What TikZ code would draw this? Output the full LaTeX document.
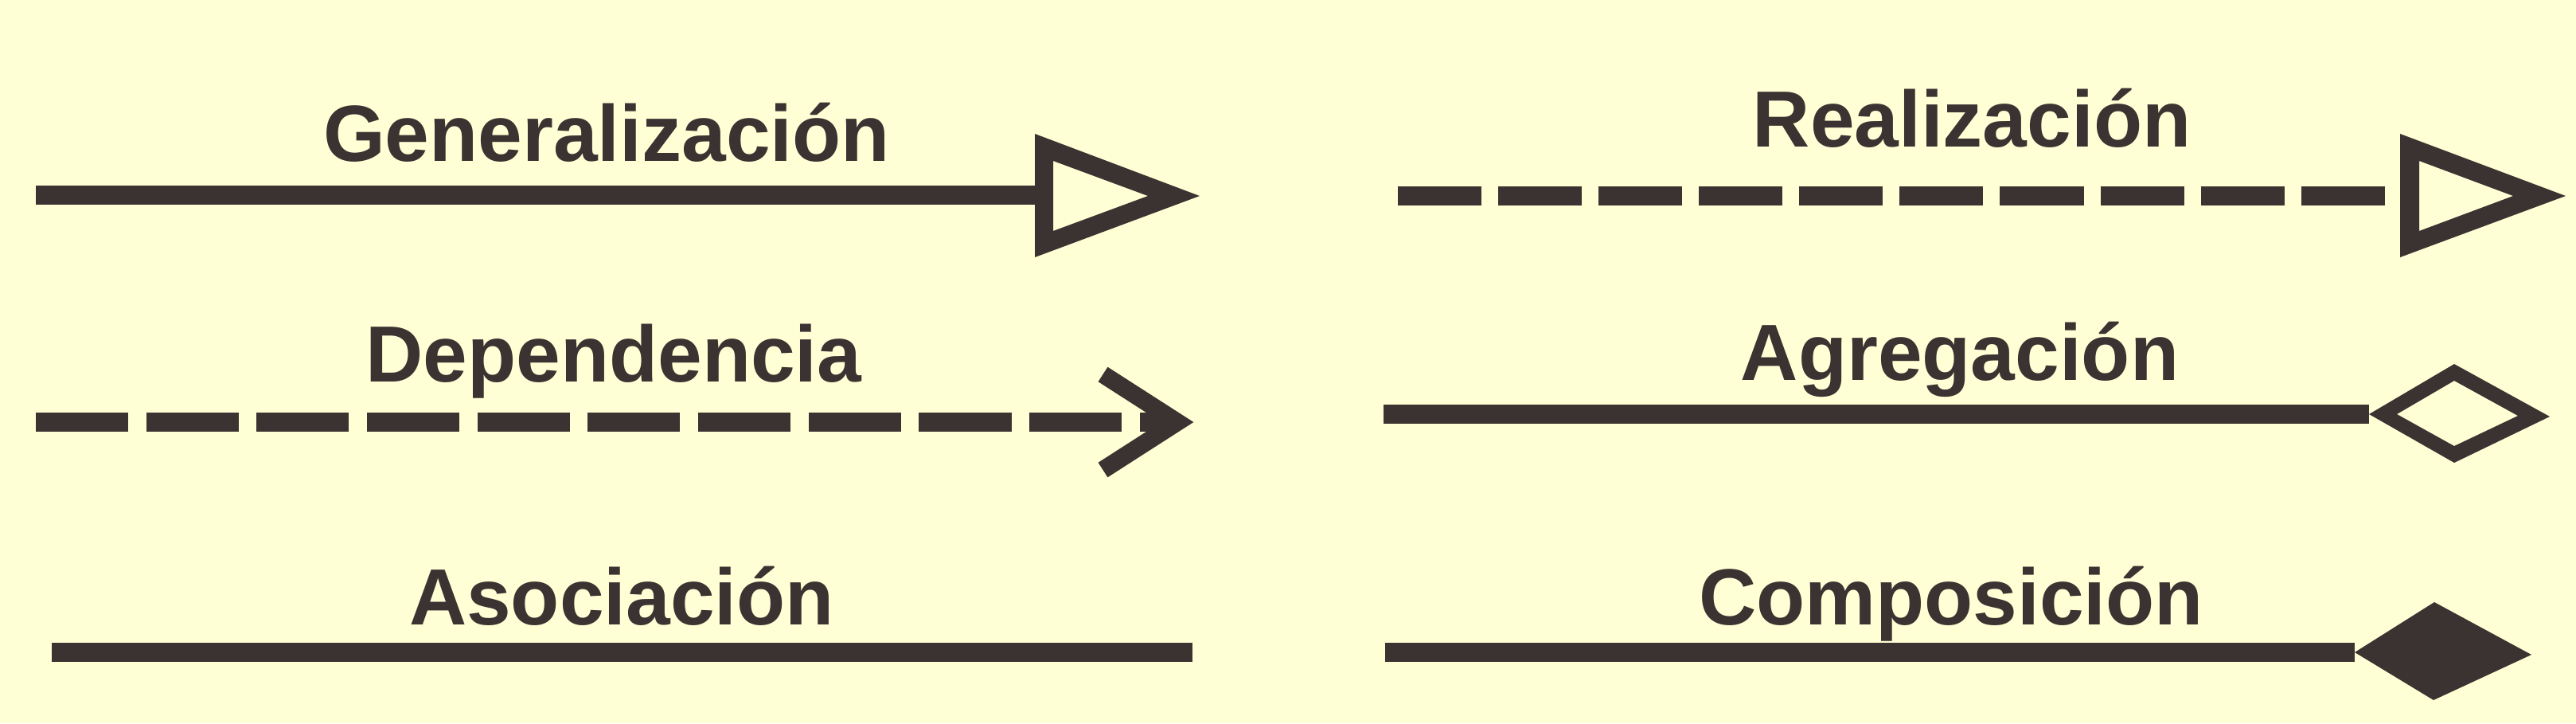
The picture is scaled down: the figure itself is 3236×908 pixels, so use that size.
\documentclass[tikz,border=0pt]{standalone}
\usepackage{fontspec}
\setmainfont{Liberation Sans}
\usetikzlibrary{positioning}

\definecolor{paper}{RGB}{255,255,213}
\definecolor{ink}{RGB}{59,51,50}

\begin{document}
\begin{tikzpicture}[x=0.01cm,y=-0.01cm,ink,
    link/.style={line width=0.24cm},
    longdash/.style={dash pattern=on 1.16cm off 0.226cm},
    shortdash/.style={dash pattern=on 1.05cm off 0.21cm},
    lbl/.style={anchor=base,inner sep=0pt,text=ink,
        font=\fontsize{28.45}{34}\selectfont\bfseries}]

% Paper
\fill[paper] (0,0) rectangle (3236,908);
\useasboundingbox (0,0) rectangle (3236,908);

% Ends of the lines
\coordinate (gstart) at (45,245);
\coordinate (gend) at (1300,245);
\coordinate (gtip) at (1507,246);
\coordinate (dstart) at (45,530);
\coordinate (dtip) at (1479,530);
\coordinate (sstart) at (65,819);
\coordinate (send) at (1498,819);
\coordinate (rstart) at (1756,246);
\coordinate (rend) at (2997,246);
\coordinate (rtip) at (3223,246);
\coordinate (astart) at (1738,520);
\coordinate (aend) at (2976,520);
\coordinate (cstart) at (1740,819);
\coordinate (cend) at (2958,819);

% Labels
\node[lbl] (lblgen) at (762,202) {Generalización};
\node[lbl] (lbldep) at (771,479) {Dependencia};
\node[lbl] (lblaso) at (781,784) {Asociación};
\node[lbl] (lblrea) at (2477,184) {Realización};
\node[lbl] (lblagr) at (2462,477) {Agregación};
\node[lbl] (lblcom) at (2451,784) {Composición};

% Generalization
\draw[link] (gstart) -- (gend);
\fill[even odd rule] (gtip) -- ++(-207,-78) -- ++(0,155) -- cycle
    (gtip) ++(-65,0) -- ++(-119,-44) -- ++(0,88) -- cycle;

% Dependency
\draw[link,longdash] (dstart) -- (dtip);
\draw[line width=0.22cm] (dtip) ++(-93.5,-60) -- (dtip) -- ++(-93.5,60);

% Association
\draw[link] (sstart) -- (send);

% Realization
\draw[link,shortdash] (rstart) -- (rend);
\fill[even odd rule] (rtip) -- ++(-208,-78) -- ++(0,155) -- cycle
    (rtip) ++(-66,0) -- ++(-118,-44) -- ++(0,88) -- cycle;

% Aggregation
\draw[link] (astart) -- (aend);
\fill[even odd rule] (aend) -- (3083,457) -- (3203,523) -- (3083,581) -- cycle
    (3011,520) -- (3083,478) -- (3163,522) -- (3083,560) -- cycle;

% Composition
\draw[link] (cstart) -- (cend);
\fill (cend) -- (3058,756) -- (3180,822) -- (3057,879) -- cycle;

\end{tikzpicture}
\end{document}
